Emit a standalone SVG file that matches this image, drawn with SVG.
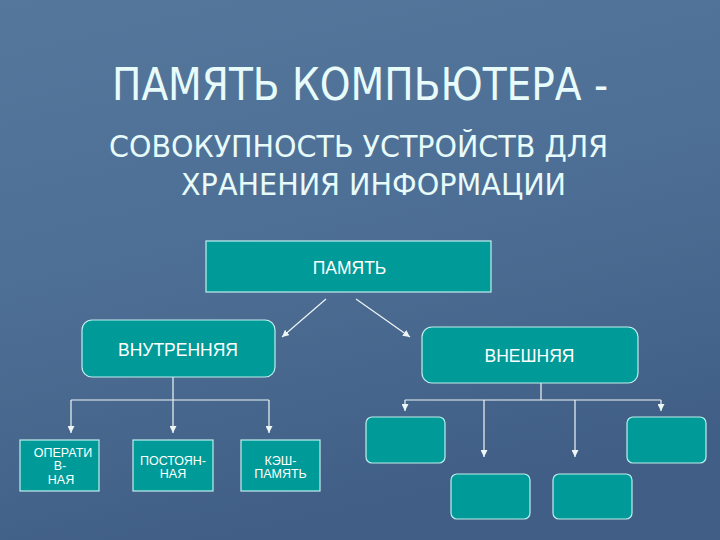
<svg xmlns="http://www.w3.org/2000/svg" width="720" height="540" viewBox="0 0 720 540">
<defs>
<linearGradient id="bg" x1="0" y1="0" x2="0.3" y2="1">
<stop offset="0" stop-color="#56779c"/>
<stop offset="0.5" stop-color="#4e6f95"/>
<stop offset="1" stop-color="#415f86"/>
</linearGradient>
<marker id="ah" viewBox="0 0 10 10" refX="10" refY="5" markerWidth="7" markerHeight="7" markerUnits="userSpaceOnUse" orient="auto">
<path d="M0,0 L10,5 L0,10 z" fill="#eef6f6"/>
</marker>
<style>
.t{font-family:"DejaVu Sans Condensed","DejaVu Sans",sans-serif;fill:#e8fbfb}
.box{fill:#009b98;stroke:#bfeeee;stroke-width:1.2}
.lb{font-family:"Liberation Sans",Arial,sans-serif;fill:#ffffff;text-anchor:middle}
.c{stroke:#eef6f6;stroke-width:1.2;fill:none}
</style>
</defs>
<rect width="720" height="540" fill="url(#bg)"/>
<text class="t" x="112" y="100" font-size="44" textLength="496" lengthAdjust="spacingAndGlyphs">ПАМЯТЬ КОМПЬЮТЕРА -</text>
<text class="t" x="109" y="157" font-size="31" textLength="499" lengthAdjust="spacingAndGlyphs">СОВОКУПНОСТЬ УСТРОЙСТВ ДЛЯ</text>
<text class="t" x="181" y="195" font-size="31" textLength="385" lengthAdjust="spacingAndGlyphs">ХРАНЕНИЯ ИНФОРМАЦИИ</text>

<g id="connectors">
<line class="c" x1="326" y1="299" x2="282" y2="337" marker-end="url(#ah)"/>
<line class="c" x1="356" y1="299" x2="410" y2="337" marker-end="url(#ah)"/>
<path class="c" d="M173,377 V400"/>
<path class="c" d="M71,400 H269"/>
<line class="c" x1="71" y1="400" x2="71" y2="433" marker-end="url(#ah)"/>
<line class="c" x1="173" y1="400" x2="173" y2="433" marker-end="url(#ah)"/>
<line class="c" x1="269" y1="400" x2="269" y2="433" marker-end="url(#ah)"/>
<path class="c" d="M541,383 V400"/>
<path class="c" d="M405,400 H661"/>
<line class="c" x1="405" y1="400" x2="405" y2="411" marker-end="url(#ah)"/>
<line class="c" x1="484" y1="400" x2="484" y2="457" marker-end="url(#ah)"/>
<line class="c" x1="575" y1="400" x2="575" y2="457" marker-end="url(#ah)"/>
<line class="c" x1="661" y1="400" x2="661" y2="411" marker-end="url(#ah)"/>
</g>

<g id="pamyat">
<rect class="box" x="206" y="241" width="285" height="51"/>
<text class="lb" x="349.5" y="274" font-size="17.5">ПАМЯТЬ</text>
</g>
<g id="vnutr">
<rect class="box" x="82" y="320" width="193" height="57" rx="10"/>
<text class="lb" x="178" y="356" font-size="17.5">ВНУТРЕННЯЯ</text>
</g>
<g id="vnesh">
<rect class="box" x="422" y="327" width="216" height="56" rx="10"/>
<text class="lb" x="529.5" y="362" font-size="17.5">ВНЕШНЯЯ</text>
</g>
<g id="operativ">
<rect class="box" x="20" y="440" width="79" height="51"/>
<text class="lb" x="63" y="457" font-size="12.5">ОПЕРАТИ</text>
<text class="lb" x="60" y="470" font-size="12.5">В-</text>
<text class="lb" x="61" y="484" font-size="12.5">НАЯ</text>
</g>
<g id="postoyan">
<rect class="box" x="133" y="440" width="80" height="51"/>
<text class="lb" x="173" y="465" font-size="12.5">ПОСТОЯН-</text>
<text class="lb" x="173" y="478" font-size="12.5">НАЯ</text>
</g>
<g id="kesh">
<rect class="box" x="241" y="440" width="79" height="51"/>
<text class="lb" x="280.5" y="465" font-size="12.5">КЭШ-</text>
<text class="lb" x="280.5" y="478" font-size="12.5">ПАМЯТЬ</text>
</g>
<g id="ext1"><rect class="box" x="366" y="417" width="79" height="46" rx="6"/></g>
<g id="ext2"><rect class="box" x="451" y="474" width="79" height="45" rx="6"/></g>
<g id="ext3"><rect class="box" x="553" y="474" width="79" height="45" rx="6"/></g>
<g id="ext4"><rect class="box" x="627" y="417" width="79" height="46" rx="6"/></g>
</svg>
